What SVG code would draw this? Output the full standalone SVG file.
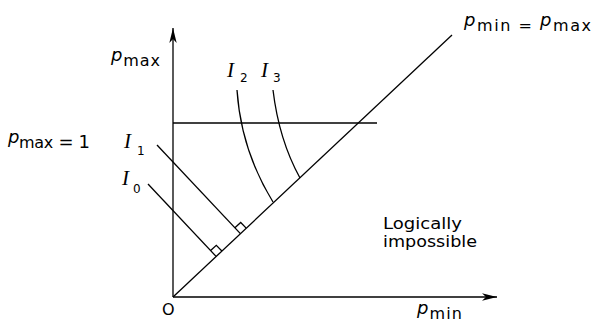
<svg xmlns="http://www.w3.org/2000/svg" width="596" height="323" viewBox="0 0 596 323">
<style>
.ln{stroke:#000;stroke-width:1.3;fill:none}
.sans{font-family:"DejaVu Sans","Liberation Sans",sans-serif;fill:#000}
.pi{font-style:italic;font-size:18px}
.sub{font-size:16px}
.I{font-family:"Liberation Serif","DejaVu Serif",serif;font-style:italic;font-size:21px;fill:#000}
.n{font-family:"DejaVu Sans","Liberation Sans",sans-serif;font-size:12px;fill:#000}
</style>
<defs>
<marker id="arr" viewBox="0 0 16 10" refX="15" refY="5" markerWidth="16" markerHeight="10" orient="auto" markerUnits="userSpaceOnUse">
<path d="M0,1.3 L15,5 L0,8.7 L4,5 Z" fill="#000"/>
</marker>
</defs>
<rect width="596" height="323" fill="#fff"/>
<g id="connectors">
<line id="y-axis" class="ln" x1="173" y1="297" x2="173" y2="28" marker-end="url(#arr)"/>
<line id="x-axis" class="ln" x1="173" y1="297" x2="497" y2="297" marker-end="url(#arr)"/>
<line id="diagonal" class="ln" x1="173" y1="297" x2="452" y2="35"/>
<line id="pmax1" class="ln" x1="173" y1="123" x2="377" y2="123"/>
<line id="I0-line" class="ln" x1="148" y1="184" x2="216.1" y2="256.4"/>
<line id="I1-line" class="ln" x1="157" y1="145" x2="240.4" y2="233.6"/>
<path id="I0-mark" class="ln" d="M210.6,250.6 L216.3,245.3 L221.9,251.0"/>
<path id="I1-mark" class="ln" d="M234.9,227.8 L240.7,222.5 L246.2,228.1"/>
<path id="I2-curve" class="ln" d="M237,90 Q241,150 273,202"/>
<path id="I3-curve" class="ln" d="M273,90 Q279,140 300,178"/>
</g>
<g id="label-pmax">
<text class="sans" x="111" y="61" textLength="49" lengthAdjust="spacing"><tspan class="pi">p</tspan><tspan class="sub" dy="5">max</tspan></text>
</g>
<g id="label-pmax-1">
<text class="sans" x="8" y="143" textLength="82" lengthAdjust="spacing"><tspan class="pi">p</tspan><tspan class="sub" dy="5">max</tspan><tspan font-size="18">&#160;= 1</tspan></text>
</g>
<g id="label-diag">
<text class="sans" x="464" y="26" textLength="127" lengthAdjust="spacing"><tspan class="pi">p</tspan><tspan class="sub" dy="5">min = </tspan><tspan class="pi" dy="-5">p</tspan><tspan class="sub" dy="5">max</tspan></text>
</g>
<g id="label-pmin">
<text class="sans" x="417" y="314" textLength="45" lengthAdjust="spacing"><tspan class="pi">p</tspan><tspan class="sub" dy="5">min</tspan></text>
</g>
<g id="label-origin">
<text class="sans" x="162" y="315" font-size="16">O</text>
</g>
<g id="label-impossible">
<text class="sans" x="383" y="229" font-size="15" textLength="79" lengthAdjust="spacingAndGlyphs">Logically</text>
<text class="sans" x="383" y="247" font-size="15" textLength="94" lengthAdjust="spacingAndGlyphs">impossible</text>
</g>
<g id="label-I0">
<text class="I" x="122" y="185">I</text>
<text class="n" x="133" y="193">0</text>
</g>
<g id="label-I1">
<text class="I" x="124" y="148">I</text>
<text class="n" x="137" y="155">1</text>
</g>
<g id="label-I2">
<text class="I" x="227" y="77">I</text>
<text class="n" x="240" y="82">2</text>
</g>
<g id="label-I3">
<text class="I" x="261" y="77">I</text>
<text class="n" x="273" y="82">3</text>
</g>
</svg>
